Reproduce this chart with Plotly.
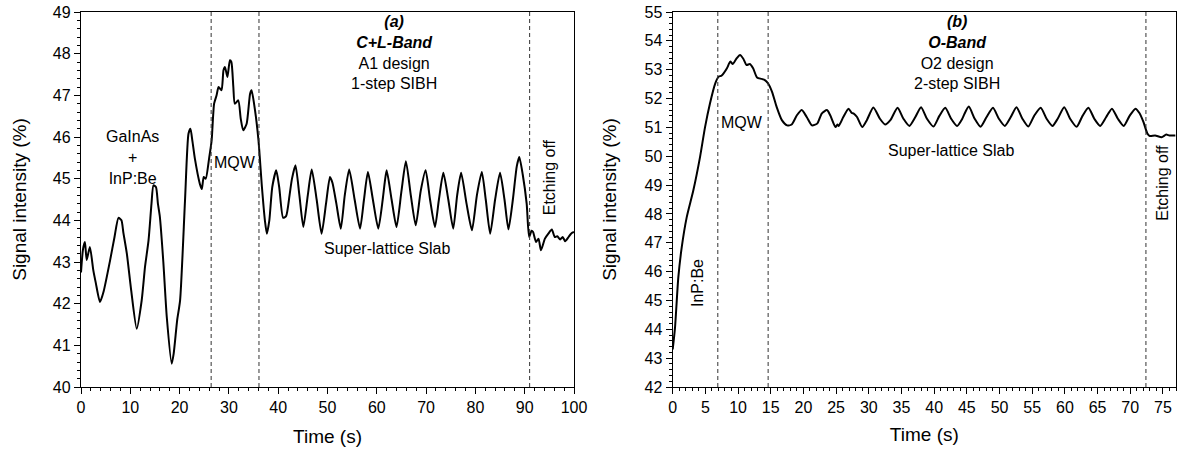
import plotly.graph_objects as go

# ---------------- Panel (a): C+L-Band ----------------
time_a = [0.0, 0.4, 0.8, 1.15, 1.8, 2.5, 3.0, 3.85, 4.6, 5.9, 6.8, 7.6, 8.2, 8.6, 9.3, 10.2, 11.3, 12.3, 13.0,
          13.7, 14.3, 14.7, 15.2, 15.6, 16.0, 16.7, 17.4, 18.4, 18.8, 19.5, 20.1, 21.1, 21.8, 22.2, 22.6, 23.1,
          24.1, 24.5, 24.9, 25.3, 26.0, 26.5, 27.0, 27.5, 27.9, 28.5, 28.9, 29.2, 29.7, 30.2, 30.5, 30.9, 31.2,
          31.9, 32.4, 32.9, 33.6, 34.3, 34.6, 35.3, 36.0, 36.7, 37.3, 37.7, 38.2, 38.8, 39.6, 40.2, 41.0, 41.6,
          42.3, 42.8, 43.5, 44.3, 45.1, 46.0, 46.8, 47.8, 48.8, 49.7, 50.5, 51.0, 51.8, 52.7, 53.5, 54.4, 55.5,
          56.6, 57.4, 58.2, 59.2, 60.3, 61.2, 61.6, 62.0, 63.0, 64.0, 65.0, 65.9, 66.9, 67.9, 68.9, 69.9, 70.8,
          71.8, 72.6, 73.5, 74.5, 75.5, 76.3, 77.1, 78.2, 79.3, 80.3, 81.3, 82.1, 83.0, 84.0, 85.0, 85.9, 86.7,
          87.6, 88.4, 88.9, 89.6, 90.4, 90.9, 91.4, 91.7, 92.3, 92.8, 93.3, 94.1, 94.8, 95.5, 96.1, 96.6, 97.2,
          97.7, 98.2, 98.9, 99.4, 100.0]
signal_a = [42.75, 43.3, 43.48, 43.05, 43.36, 42.8, 42.5, 42.04, 42.3, 43.04, 43.6, 44.06, 44.0, 43.7, 43.2, 42.3,
            41.4, 42.07, 42.9, 43.52, 44.4, 44.84, 44.8, 44.4, 44.08, 43.0, 41.68, 40.56, 40.8, 41.6, 42.08,
            44.48, 46.08, 46.2, 45.9, 45.48, 44.88, 44.75, 45.04, 45.0, 45.5, 45.92, 46.8, 47.0, 47.2, 47.12,
            47.6, 47.68, 47.44, 47.84, 47.8, 47.2, 46.8, 46.88, 46.44, 46.16, 46.32, 47.04, 47.12, 46.64, 45.92,
            44.8, 44.0, 43.68, 44.0, 44.8, 45.2, 44.8, 44.06, 44.1, 44.6, 45.0, 45.32, 44.6, 43.84, 44.6, 45.22,
            44.5, 43.68, 44.4, 45.04, 44.9, 44.4, 43.8, 44.6, 45.22, 44.5, 43.8, 44.5, 45.16, 44.5, 43.8, 44.5,
            44.9, 45.2, 44.5, 43.84, 44.7, 45.42, 44.6, 43.88, 44.7, 45.2, 44.5, 43.84, 44.5, 45.14, 44.5, 43.8,
            44.6, 45.14, 44.4, 43.76, 44.6, 45.16, 44.5, 43.68, 44.5, 45.14, 44.5, 43.78, 44.5, 45.3, 45.52,
            45.1, 44.4, 43.6, 43.75, 43.72, 43.48, 43.56, 43.28, 43.56, 43.68, 43.78, 43.6, 43.62, 43.54, 43.6,
            43.5, 43.6, 43.68, 43.72]
vlines_a = [26.4, 36.1, 91.0]

# ---------------- Panel (b): O-Band ----------------
time_b = [0.0, 0.35, 0.86, 1.38, 2.14, 3.15, 4.18, 4.95, 5.7, 6.5, 7.0, 7.5, 8.3, 8.8, 9.2, 9.8, 10.3, 10.8,
          11.3, 11.8, 12.3, 12.9, 13.6, 14.1, 14.6, 15.2, 15.9, 16.7, 17.5, 18.2, 19.0, 19.75, 20.5, 21.3,
          22.1, 22.8, 23.6, 24.1, 24.9, 25.2, 25.4, 26.1, 26.9, 27.4, 27.7, 28.2, 29.0, 29.7, 30.7, 31.7, 32.5,
          33.3, 34.4, 35.3, 36.2, 37.1, 38.0, 38.9, 39.9, 40.8, 41.7, 42.6, 43.5, 44.3, 44.6, 45.3, 46.2, 47.1,
          48.0, 49.0, 49.9, 50.8, 51.7, 52.6, 53.5, 54.4, 55.3, 56.3, 57.2, 58.1, 58.9, 59.9, 60.8, 61.8, 62.7,
          63.6, 64.5, 65.4, 66.3, 67.2, 68.1, 69.0, 69.9, 70.8, 71.4, 72.0, 72.6, 73.0, 73.8, 74.8, 75.5, 76.0,
          76.9]
signal_b = [43.3, 44.05, 45.8, 46.84, 47.88, 48.81, 49.97, 51.01, 51.83, 52.52, 52.75, 52.8, 53.05, 53.28, 53.2,
            53.4, 53.51, 53.38, 53.16, 53.2, 53.05, 52.73, 52.68, 52.64, 52.52, 52.23, 51.71, 51.25, 51.07, 51.1,
            51.42, 51.6, 51.36, 51.07, 51.13, 51.48, 51.6, 51.42, 51.01, 51.1, 51.05, 51.36, 51.65, 51.5, 51.48,
            51.36, 51.01, 51.25, 51.69, 51.3, 51.1, 51.25, 51.68, 51.3, 51.05, 51.35, 51.7, 51.3, 51.03, 51.4,
            51.68, 51.3, 51.05, 51.3, 51.45, 51.72, 51.3, 51.02, 51.35, 51.68, 51.3, 51.05, 51.35, 51.7, 51.3,
            51.03, 51.4, 51.68, 51.3, 51.05, 51.3, 51.7, 51.3, 51.02, 51.4, 51.68, 51.3, 51.05, 51.35, 51.65,
            51.3, 51.05, 51.4, 51.65, 51.5, 51.2, 50.8, 50.7, 50.72, 50.66, 50.75, 50.72, 50.72]
vlines_b = [6.9, 14.6, 72.4]

FONT = "Liberation Sans, Arial, sans-serif"

fig = go.Figure()
fig.add_trace(go.Scatter(x=time_a, y=signal_a, mode="lines", xaxis="x", yaxis="y",
                         line=dict(color="black", width=2, shape="spline", smoothing=0.6), showlegend=False))
fig.add_trace(go.Scatter(x=time_b, y=signal_b, mode="lines", xaxis="x2", yaxis="y2",
                         line=dict(color="black", width=2, shape="spline", smoothing=0.6), showlegend=False))

for xv in vlines_a:
    fig.add_shape(type="line", xref="x", yref="y", x0=xv, x1=xv, y0=40, y1=49,
                  line=dict(color="#333", width=1, dash="4px,3px"))
for xv in vlines_b:
    fig.add_shape(type="line", xref="x2", yref="y2", x0=xv, x1=xv, y0=42, y1=55,
                  line=dict(color="#333", width=1, dash="4px,3px"))

W, H = 1177, 450
ydom = [1 - 387 / H, 1 - 12 / H]
common_axis = dict(showline=True, linecolor="black", linewidth=1.3, mirror=True, ticks="outside",
                   ticklen=6, tickwidth=1.3, tickcolor="black", showgrid=False, zeroline=False,
                   automargin=False,
                   tickfont=dict(family=FONT, size=16, color="black"),
                   title_font=dict(family=FONT, size=19, color="black"))

fig.update_layout(
    width=W, height=H, margin=dict(l=0, r=0, t=0, b=0, autoexpand=False),
    paper_bgcolor="white", plot_bgcolor="white",
    font=dict(family=FONT, color="black"),
    xaxis=dict(domain=[81 / W, 574 / W], range=[0, 100], dtick=10, anchor="y",
               minor=dict(ticks="outside", dtick=2, ticklen=3, tickcolor="black"),
               title=dict(text="Time (s)", standoff=14), **common_axis),
    yaxis=dict(domain=ydom, range=[40, 49], dtick=1, anchor="x",
               minor=dict(ticks="outside", dtick=0.2, ticklen=3, tickcolor="black"),
               title=dict(text="Signal intensity (%)", standoff=21), **common_axis),
    xaxis2=dict(domain=[672.7 / W, 1176 / W], range=[0, 77], dtick=5, anchor="y2",
                minor=dict(ticks="outside", dtick=1, ticklen=3, tickcolor="black"),
                title=dict(text="Time (s)", standoff=12), **common_axis),
    yaxis2=dict(domain=ydom, range=[42, 55], dtick=1, anchor="x2",
                minor=dict(ticks="outside", dtick=0.2, ticklen=3, tickcolor="black"),
                title=dict(text="Signal intensity (%)", standoff=22), **common_axis),
)

ann_font = dict(family=FONT, size=16, color="black")
anns = [
    dict(xref="x", yref="y", x=10.5, y=45.51, text="GaInAs<br>+<br>InP:Be"),
    dict(xref="x", yref="y", x=31.2, y=45.39, text="MQW"),
    dict(xref="x", yref="y", x=63.5, y=48.03,
         text="<b><i>(a)</i></b><br><b><i>C+L-Band</i></b><br>A1 design<br>1-step SIBH"),
    dict(xref="x", yref="y", x=62.1, y=43.33, text="Super-lattice Slab"),
    dict(xref="x", yref="y", x=95.1, y=45.03, text="Etching off", textangle=-90),
    dict(xref="x2", yref="y2", x=43.5, y=53.61,
         text="<b><i>(b)</i></b><br><b><i>O-Band</i></b><br>O2 design<br>2-step SIBH"),
    dict(xref="x2", yref="y2", x=10.6, y=51.18, text="MQW"),
    dict(xref="x2", yref="y2", x=42.5, y=50.2, text="Super-lattice Slab"),
    dict(xref="x2", yref="y2", x=74.9, y=49.09, text="Etching off", textangle=-90),
    dict(xref="x2", yref="y2", x=3.9, y=45.61, text="InP:Be", textangle=-90),
]
for a in anns:
    fig.add_annotation(showarrow=False, font=ann_font, **a)

fig.write_html("out.html", config={"displayModeBar": False},
               post_script="document.body.style.margin='0';document.body.style.overflow='hidden';")
